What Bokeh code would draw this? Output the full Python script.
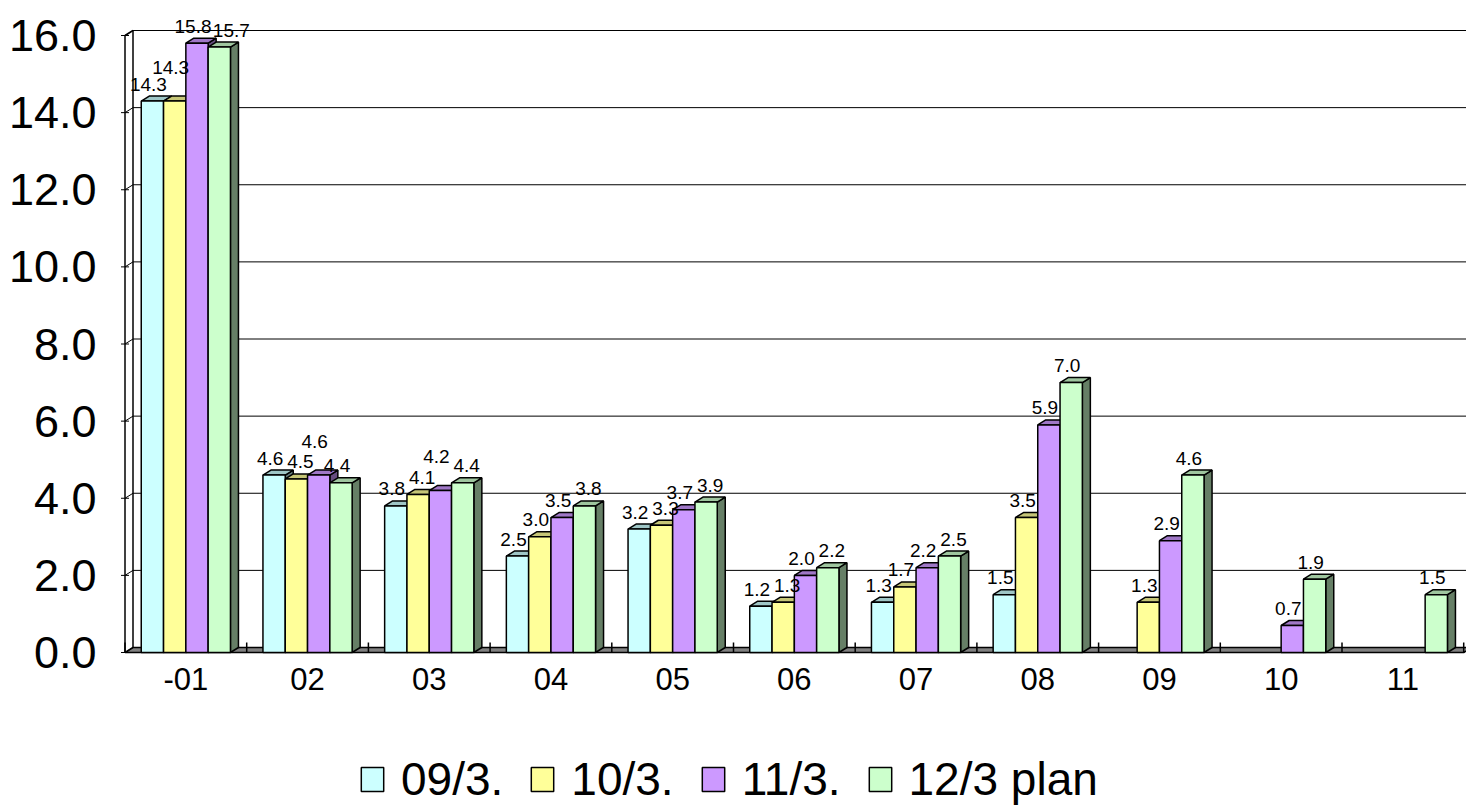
from bokeh.plotting import figure
from bokeh.layouts import column
from bokeh.models import (Range1d, FixedTicker, LinearAxis, Legend, LegendItem,
                          NumeralTickFormatter)
from bokeh.embed import file_html
from bokeh.resources import INLINE
from bokeh.core.properties import value

# ---- data -------------------------------------------------------------
categories = ["-01", "02", "03", "04", "05", "06", "07", "08", "09", "10", "11"]
series_names = ["09/3.", "10/3.", "11/3.", "12/3 plan"]
s_09 = [14.3, 4.6, 3.8, 2.5, 3.2, 1.2, 1.3, 1.5, None, None, None]
s_10 = [14.3, 4.5, 4.1, 3.0, 3.3, 1.3, 1.7, 3.5, 1.3, None, None]
s_11 = [15.8, 4.6, 4.2, 3.5, 3.7, 2.0, 2.2, 5.9, 2.9, 0.7, None]
s_12 = [15.7, 4.4, 4.4, 3.8, 3.9, 2.2, 2.5, 7.0, 4.6, 1.9, 1.5]
y_ticks = [0, 2, 4, 6, 8, 10, 12, 14, 16]

series = [s_09, s_10, s_11, s_12]

# ---- styling ----------------------------------------------------------
front_colors = ["#CCFFFF", "#FFFF99", "#CC99FF", "#CCFFCC"]
FONT = "Liberation Sans"


def shade(hex_color, f):
    r, g, b = (int(hex_color[i:i + 2], 16) for i in (1, 3, 5))
    return "#%02x%02x%02x" % (int(r * f), int(g * f), int(b * f))


top_colors = [shade(c, 0.78) for c in front_colors]
side_colors = [shade(c, 0.5) for c in front_colors]

# ---- geometry (pixels -> data units) ----------------------------------
W, H = 1466, 806
CHART_H = 720       # chart figure height; the legend strip fills the rest
PX_X = 121.7        # pixels per category slot
PX_Y = 38.5625      # pixels per value unit
FRAME_L = 112       # left edge of the plotting frame
FRAME_H = 660       # frame height (frame top at canvas top)
AXIS0_X = 124.5     # pixel x of the front-left corner of the chart
ZERO_Y = 652        # pixel y of value 0 on the front plane
DX = 8 / PX_X       # 3-D depth offset, to the right
DY = 5 / PX_Y       # 3-D depth offset, upwards
BAR_W = 22.3 / PX_X

x_start = -(AXIS0_X - FRAME_L) / PX_X
x_end = x_start + (W - FRAME_L) / PX_X
y_start = -(FRAME_H - ZERO_Y) / PX_Y
y_end = y_start + FRAME_H / PX_Y
n_cat = len(categories)

p = figure(width=W, height=CHART_H, x_range=Range1d(x_start, x_end),
           y_range=Range1d(y_start, y_end), x_axis_type=None, y_axis_type=None,
           output_backend="svg", toolbar_location=None,
           min_border_left=FRAME_L, min_border_right=0, min_border_top=0,
           min_border_bottom=CHART_H - FRAME_H)
p.outline_line_color = None
p.background_fill_color = "white"
p.border_fill_color = "white"
p.xgrid.visible = False
p.ygrid.visible = False

top_val = y_ticks[-1]

# floor
p.patch([0, n_cat, n_cat + DX, DX], [0, 0, DY, DY], fill_color="#808080",
        line_color="black", line_width=1.5)

# back wall gridlines
grid_vals = [t for t in y_ticks if t > 0]
p.segment(x0=[DX] * len(grid_vals), y0=[t + DY for t in grid_vals],
          x1=[x_end] * len(grid_vals), y1=[t + DY for t in grid_vals],
          line_color="black", line_width=1)

# left side wall: edges and gridline diagonals
p.segment(x0=[0, DX, 0], y0=[0, DY, top_val], x1=[0, DX, DX],
          y1=[top_val, top_val + DY, top_val + DY], line_color="black", line_width=1.5)
p.segment(x0=[0] * len(y_ticks), y0=y_ticks, x1=[DX] * len(y_ticks),
          y1=[t + DY for t in y_ticks], line_color="black", line_width=1)
# value-axis tick marks
tick_half = 4 / PX_X
p.segment(x0=[-tick_half] * len(y_ticks), y0=y_ticks, x1=[tick_half] * len(y_ticks),
          y1=y_ticks, line_color="black", line_width=1)

# category boundary tick marks on the floor
bounds = list(range(n_cat + 1))
p.segment(x0=bounds, y0=[0] * len(bounds), x1=bounds, y1=[10 / PX_Y] * len(bounds),
          line_color="black", line_width=1.5)

# ---- 3-D bars ---------------------------------------------------------
for k, vals in enumerate(series):
    fx, fy, tx, ty, sx, sy = [], [], [], [], [], []
    for i, v in enumerate(vals):
        if v is None:
            continue
        x0 = i + 0.5 + (k - 2) * BAR_W
        x1 = x0 + BAR_W
        fx.append([x0, x1, x1, x0]); fy.append([0, 0, v, v])
        tx.append([x0, x1, x1 + DX, x0 + DX]); ty.append([v, v, v + DY, v + DY])
        sx.append([x1, x1 + DX, x1 + DX, x1]); sy.append([0, DY, v + DY, v])
    p.patches(sx, sy, fill_color=side_colors[k], line_color="black", line_width=1.5)
    p.patches(tx, ty, fill_color=top_colors[k], line_color="black", line_width=1.5)
    p.patches(fx, fy, fill_color=front_colors[k], line_color="black", line_width=1.5)

# ---- value labels, nudged so they don't collide -----------------------
LBL_SIZE = 19
candidates = [(0, 0), (8, 0), (0, -17), (16, 0), (8, -17), (16, -17),
              (24, 0), (0, -34), (24, -17)]
placed = []
lx, ly, lt = [], [], []
for i in range(n_cat):
    for k, vals in enumerate(series):
        v = vals[i]
        if v is None:
            continue
        txt = f"{v:.1f}"
        w = LBL_SIZE * (0.556 * (len(txt) - 1) + 0.278)
        h = 14
        bar_cx = AXIS0_X + (i + 0.5 + (k - 1.5) * BAR_W) * PX_X
        cx0 = bar_cx - 4
        cy0 = ZERO_Y - v * PX_Y - 17
        cx, cy = cx0, cy0
        for ddx, ddy in candidates:
            cx, cy = cx0 + ddx, cy0 + ddy
            if cy - h / 2 < 2:
                continue
            if all(abs(cx - qx) >= (w + qw) / 2 or abs(cy - qy) >= (h + qh) / 2
                   for qx, qy, qw, qh in placed):
                break
        placed.append((cx, cy, w, h))
        lx.append((cx - AXIS0_X) / PX_X)
        ly.append((ZERO_Y - cy) / PX_Y)
        lt.append(txt)

p.text(x=lx, y=ly, text=lt, text_font=value(FONT), text_font_size=f"{LBL_SIZE}px",
       text_align="center", text_baseline="middle", text_color="black")

# ---- axes -------------------------------------------------------------
yaxis = LinearAxis(ticker=FixedTicker(ticks=y_ticks),
                   formatter=NumeralTickFormatter(format="0.0"))
yaxis.axis_line_color = None
yaxis.major_tick_line_color = None
yaxis.minor_tick_line_color = None
yaxis.major_label_standoff = 10
yaxis.major_label_text_font = FONT
yaxis.major_label_text_font_size = "45px"
yaxis.major_label_text_color = "black"
p.add_layout(yaxis, "left")

cat_centers = [i + 0.5 for i in range(n_cat)]
xaxis = LinearAxis(ticker=FixedTicker(ticks=cat_centers),
                   major_label_overrides={c: lab for c, lab in zip(cat_centers, categories)})
xaxis.axis_line_color = None
xaxis.major_tick_line_color = None
xaxis.minor_tick_line_color = None
xaxis.major_label_standoff = 1
xaxis.major_label_text_font = FONT
xaxis.major_label_text_font_size = "31px"
xaxis.major_label_text_color = "black"
p.add_layout(xaxis, "below")

# ---- legend strip under the chart ------------------------------------
# (its frame is aligned with the chart frame by the column layout)
lg = figure(width=W, height=H - CHART_H, x_range=Range1d(0, 1), y_range=Range1d(0, 1),
            x_axis_type=None, y_axis_type=None, output_backend="svg",
            toolbar_location=None, min_border=0)
lg.outline_line_color = None
lg.xgrid.visible = False
lg.ygrid.visible = False
# swatch renderers live outside the visible range; only their legend entries show
swatches = [lg.rect(x=[-5], y=[-5], width=0.1, height=0.1, fill_color=c,
                    line_color="black", line_width=1.5)
            for c in front_colors]
legend = Legend(items=[LegendItem(label=n, renderers=[r])
                       for n, r in zip(series_names, swatches)],
                orientation="horizontal", location=(358 - FRAME_L, 0),
                label_text_font=FONT, label_text_font_size="46px",
                label_text_color="black",
                glyph_width=28, glyph_height=30, label_standoff=15, spacing=25,
                padding=0, margin=0, border_line_color=None,
                background_fill_alpha=0)
lg.add_layout(legend)

open("out.html", "w").write(file_html(column(p, lg, spacing=0), INLINE))
